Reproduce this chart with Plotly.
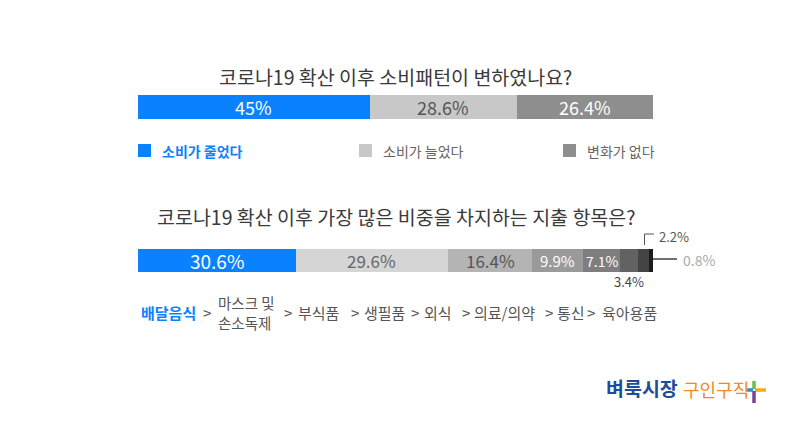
import plotly.graph_objects as go
import numpy as np

# ---------------- data ----------------
q1_title = "코로나19 확산 이후 소비패턴이 변하였나요?"
q1_labels = ["소비가 줄었다", "소비가 늘었다", "변화가 없다"]
q1_values = [45, 28.6, 26.4]
q1_colors = ["#0A82FF", "#C8C8C8", "#8E8E8E"]
q1_text_colors = ["#FFFFFF", "#555555", "#FFFFFF"]

q2_title = "코로나19 확산 이후 가장 많은 비중을 차지하는 지출 항목은?"
q2_items = ["배달음식", "마스크 및 손소독제", "부식품", "생필품", "외식", "의료/의약", "통신", "육아용품"]
q2_values = [30.6, 29.6, 16.4, 9.9, 7.1, 3.4, 2.2, 0.8]
q2_colors = ["#0A82FF", "#D5D5D5", "#B4B4B4", "#9A9A9A", "#7E7E7E", "#626262", "#444444", "#1C1C1C"]
q2_text_colors = ["#FFFFFF", "#666666", "#555555", "#FFFFFF", "#FFFFFF", None, None, None]
q2_text_sizes = [19, 17, 17, 15, 14, 0, 0, 0]

rank_items = ["배달음식", ["마스크 및", "손소독제"], "부식품", "생필품", "외식", "의료/의약", "통신", "육아용품"]

W, H = 796, 447
FONT = "Noto Sans CJK KR"

def py(p):
    return 1 - p / H

def px(p):
    return p / W

X0, X1 = 138, 653
B1 = (92, 119)
B2 = (245, 272)

fig = go.Figure()

for lab, v, c in zip(q1_labels, q1_values, q1_colors):
    fig.add_trace(go.Bar(x=[v], y=["q1"], orientation="h", marker=dict(color=c, line=dict(width=0)),
                         name=lab, xaxis="x", yaxis="y", showlegend=False, hoverinfo="skip"))
for lab, v, c in zip(q2_items, q2_values, q2_colors):
    fig.add_trace(go.Bar(x=[v], y=["q2"], orientation="h", marker=dict(color=c, line=dict(width=0)),
                         name=lab, xaxis="x2", yaxis="y2", showlegend=False, hoverinfo="skip"))

ann = []
shapes = []

# titles
ann.append(dict(text=q1_title, x=px(395), y=py(60), xref="paper", yref="paper", showarrow=False,
                font=dict(family=FONT, size=19.5, color="#3A3A3A")))
ann.append(dict(text=q2_title, x=px(395.5), y=py(216), xref="paper", yref="paper", showarrow=False,
                font=dict(family=FONT, size=19.5, color="#3A3A3A")))

# bar 1 labels
cum = np.cumsum([0] + q1_values)
for i, v in enumerate(q1_values):
    ann.append(dict(text=f"{v:g}%", x=(cum[i] + cum[i + 1]) / 2, y="q1", xref="x", yref="y",
                    showarrow=False, font=dict(family=FONT, size=18, color=q1_text_colors[i])))

# bar 2 labels
cum2 = np.cumsum([0] + q2_values)
for i, v in enumerate(q2_values):
    if q2_text_colors[i]:
        ann.append(dict(text=f"{v:g}%", x=(cum2[i] + cum2[i + 1]) / 2, y="q2", xref="x2", yref="y2",
                        showarrow=False, font=dict(family=FONT, size=q2_text_sizes[i], color=q2_text_colors[i])))

# small segment callouts
m34 = (cum2[5] + cum2[6]) / 2
end08 = cum2[8]
ann.append(dict(text=f"{q2_values[5]:g}%", x=m34, y=py(281), xref="x2", yref="paper", showarrow=False,
                font=dict(family=FONT, size=13, color="#444444")))
shapes.append(dict(type="path", xref="paper", yref="paper",
                   path=f"M {px(644.5)} {py(B2[0])} L {px(644.5)} {py(234)} L {px(654)} {py(234)}",
                   line=dict(color="#555555", width=1)))
ann.append(dict(text=f"{q2_values[6]:g}%", x=px(657), y=py(236), xref="paper", yref="paper", xanchor="left",
                showarrow=False, font=dict(family=FONT, size=13, color="#555555")))
shapes.append(dict(type="line", xref="paper", yref="paper", x0=px(X1), x1=px(677), y0=py(259), y1=py(259),
                   line=dict(color="#111111", width=1.2)))
ann.append(dict(text=f"{q2_values[7]:g}%", x=px(681), y=py(260), xref="paper", yref="paper", xanchor="left",
                showarrow=False, font=dict(family=FONT, size=14, color="#AAAAAA")))

# legend for question 1
leg_x = [138, 359, 563]
leg_font_col = ["#0A82FF", "#666666", "#666666"]
for i, lab in enumerate(q1_labels):
    shapes.append(dict(type="rect", xref="paper", yref="paper", x0=px(leg_x[i]), x1=px(leg_x[i] + 13),
                       y0=py(157), y1=py(144), fillcolor=q1_colors[i], line=dict(width=0)))
    t = f"<b>{lab}</b>" if i == 0 else lab
    ann.append(dict(text=t, x=px(leg_x[i] + 22), y=py(151), xref="paper", yref="paper", xanchor="left",
                    showarrow=False, font=dict(family=FONT, size=14, color=leg_font_col[i])))

# ranking row
item_x = [139, 216, 296, 362, 422, 472, 555, 600]
sep_x = [201, 282, 348.5, 409, 460, 542.5, 585]
for i, it in enumerate(rank_items):
    if isinstance(it, list):
        ann.append(dict(text=it[0], x=px(item_x[i]), y=py(315), xref="paper", yref="paper", xanchor="left",
                        showarrow=False, font=dict(family=FONT, size=14.5, color="#555555")))
        ann.append(dict(text=it[1], x=px(item_x[i]), y=py(335), xref="paper", yref="paper", xanchor="left",
                        showarrow=False, font=dict(family=FONT, size=14.5, color="#555555")))
    else:
        t = f"<b>{it}</b>" if i == 0 else it
        col = "#0A82FF" if i == 0 else "#555555"
        ann.append(dict(text=t, x=px(item_x[i]), y=py(325), xref="paper", yref="paper", xanchor="left",
                        showarrow=False, font=dict(family=FONT, size=15, color=col)))
for sx in sep_x:
    ann.append(dict(text=">", x=px(sx), y=py(325), xref="paper", yref="paper", xanchor="left",
                    showarrow=False, font=dict(family=FONT, size=15, color="#555555")))

# logo
ann.append(dict(text="<b>벼룩시장</b>", x=px(604), y=py(404), xref="paper", yref="paper", xanchor="left",
                showarrow=False, font=dict(family=FONT, size=19.5, color="#1E4C9C")))
ann.append(dict(text="구인구직", x=px(681), y=py(404), xref="paper", yref="paper", xanchor="left",
                showarrow=False, font=dict(family=FONT, size=18, color="#F08A24")))
cx, cy = 754, 390
for (x0, y0, x1, y1, c) in [(cx, cy - 9, cx, cy - 1, "#6DBE45"), (cx + 1, cy, cx + 12, cy, "#F5A623"),
                            (cx, cy + 1, cx, cy + 13, "#7B3FA0"), (cx - 8, cy, cx - 1, cy, "#1F8FD6")]:
    shapes.append(dict(type="line", xref="paper", yref="paper", x0=px(x0), x1=px(x1), y0=py(y0), y1=py(y1),
                       line=dict(color=c, width=3.5)))

axis_common = dict(showgrid=False, zeroline=False, showticklabels=False, showline=False, fixedrange=True)
fig.update_layout(
    width=W, height=H, margin=dict(l=0, r=0, t=0, b=0),
    paper_bgcolor="white", plot_bgcolor="white",
    barmode="stack", bargap=0, showlegend=False,
    xaxis=dict(domain=[px(X0), px(X1)], range=[0, 100], anchor="y", **axis_common),
    yaxis=dict(domain=[py(B1[1]), py(B1[0])], anchor="x", **axis_common),
    xaxis2=dict(domain=[px(X0), px(X1)], range=[0, 100], anchor="y2", **axis_common),
    yaxis2=dict(domain=[py(B2[1]), py(B2[0])], anchor="x2", **axis_common),
    annotations=ann, shapes=shapes,
)
fig.write_html("out.html")
